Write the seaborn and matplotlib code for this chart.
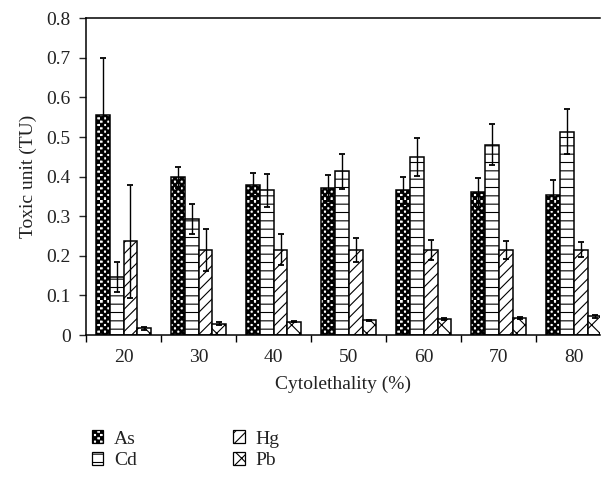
import warnings
import numpy as np
import pandas as pd
import matplotlib
matplotlib.use("Agg")
import matplotlib.pyplot as plt
import seaborn as sns
from matplotlib import hatch as mhatch
from matplotlib.path import Path
from matplotlib.patches import Patch

warnings.filterwarnings("ignore")

# ---------------- data ----------------
cytolethality = ["20", "30", "40", "50", "60", "70", "80"]
metals = ["As", "Cd", "Hg", "Pb"]

as_tu = [0.555, 0.398, 0.380, 0.372, 0.365, 0.360, 0.353]
cd_tu = [0.147, 0.293, 0.365, 0.413, 0.449, 0.481, 0.513]
hg_tu = [0.237, 0.216, 0.215, 0.215, 0.215, 0.215, 0.216]
pb_tu = [0.017, 0.029, 0.034, 0.037, 0.040, 0.043, 0.047]

as_err = [0.145, 0.027, 0.030, 0.033, 0.035, 0.037, 0.038]
cd_err = [0.037, 0.037, 0.041, 0.045, 0.048, 0.052, 0.057]
hg_err = [0.143, 0.053, 0.039, 0.030, 0.026, 0.022, 0.019]
pb_err = [0.004, 0.003, 0.002, 0.002, 0.002, 0.002, 0.004]

y_ticks = [0, 0.1, 0.2, 0.3, 0.4, 0.5, 0.6, 0.7, 0.8]
y_ticklabels = ["0", "0.1", "0.2", "0.3", "0.4", "0.5", "0.6", "0.7", "0.8"]

values = {"As": as_tu, "Cd": cd_tu, "Hg": hg_tu, "Pb": pb_tu}
errors = {"As": as_err, "Cd": cd_err, "Hg": hg_err, "Pb": pb_err}

df = pd.DataFrame(
    [(c, m, values[m][i]) for m in metals for i, c in enumerate(cytolethality)],
    columns=["Cytolethality", "Metal", "TU"],
)


# ---------------- checkerboard hatch ----------------
class CheckerHatch(mhatch.HatchPatternBase):
    filled = True

    def __init__(self, hatch, density):
        self.n = 30 if "c" in hatch else 0
        self.num_vertices = (self.n * self.n // 2) * 5

    def set_vertices_and_codes(self, vertices, codes):
        s = 1.0 / self.n
        k = 0
        for i in range(self.n):
            for j in range(self.n):
                if (i + j) % 2 == 0:
                    x, y = i * s, j * s
                    vertices[k:k + 5] = [(x, y), (x + s, y), (x + s, y + s),
                                         (x, y + s), (x, y)]
                    codes[k:k + 5] = [Path.MOVETO, Path.LINETO, Path.LINETO,
                                      Path.LINETO, Path.CLOSEPOLY]
                    k += 5


mhatch._hatch_types.append(CheckerHatch)

hatches = {"As": "c", "Cd": "--", "Hg": "///", "Pb": "xx"}

# ---------------- style ----------------
sns.set_style("white")
plt.rcParams["font.family"] = ["Liberation Serif", "DejaVu Serif"]
plt.rcParams["hatch.linewidth"] = 0.8
plt.rcParams["hatch.color"] = "black"
text_color = "#222222"
fs = 14

fig = plt.figure(figsize=(6.02, 4.78), dpi=100)
ax = fig.add_axes([0.143, 0.299, 0.854, 0.663])

sns.barplot(
    data=df, x="Cytolethality", y="TU", hue="Metal",
    order=cytolethality, hue_order=metals,
    width=0.733, errorbar=None, ax=ax, legend=False,
    color="white", saturation=1,
)

for metal, container in zip(metals, ax.containers):
    xs = []
    hs = []
    for bar in container:
        bar.set_facecolor("white")
        bar.set_edgecolor("black")
        bar.set_linewidth(1.1)
        bar.set_hatch(hatches[metal])
        xs.append(bar.get_x() + bar.get_width() / 2)
        hs.append(bar.get_height())
    ax.errorbar(xs, hs, yerr=errors[metal], fmt="none", ecolor="black",
                elinewidth=1.0, capsize=2.5, capthick=1.3, zorder=5)

ax.set_xlim(-0.5, 6.35)
ax.set_ylim(0, 0.8)
ax.set_yticks(y_ticks)
ax.set_yticklabels(y_ticklabels)

ax.set_xticks(np.arange(len(cytolethality)))
ax.set_xticklabels(cytolethality)
ax.set_xticks(np.arange(len(cytolethality)) - 0.5, minor=True)
ax.tick_params(axis="x", which="major", length=0, pad=10,
               labelsize=fs, labelcolor=text_color)
ax.tick_params(axis="x", which="minor", direction="out", length=5,
               width=1, color="black", bottom=True)
ax.tick_params(axis="y", direction="out", length=5, width=1, left=True,
               labelsize=fs, labelcolor=text_color, pad=6)

for side in ["left", "bottom", "top"]:
    ax.spines[side].set_visible(True)
    ax.spines[side].set_color("black")
    ax.spines[side].set_linewidth(1.1)
ax.spines["right"].set_visible(False)

ax.set_xlabel("Cytolethality (%)", fontsize=fs, color=text_color, labelpad=7)
ax.set_ylabel("Toxic unit (TU)", fontsize=fs, color=text_color, labelpad=7)

handles = [Patch(facecolor="white", edgecolor="black", linewidth=0.9,
                 hatch=hatches[m], label=m) for m in metals]
fig.legend(handles=handles, ncol=2, frameon=False,
           loc="upper left", bbox_to_anchor=(0.123, 0.136),
           handlelength=0.6, handleheight=0.6, handletextpad=0.55,
           columnspacing=4.95, labelspacing=0.25,
           prop={"size": fs}, labelcolor=text_color)

fig.savefig("out.png", dpi=100)
